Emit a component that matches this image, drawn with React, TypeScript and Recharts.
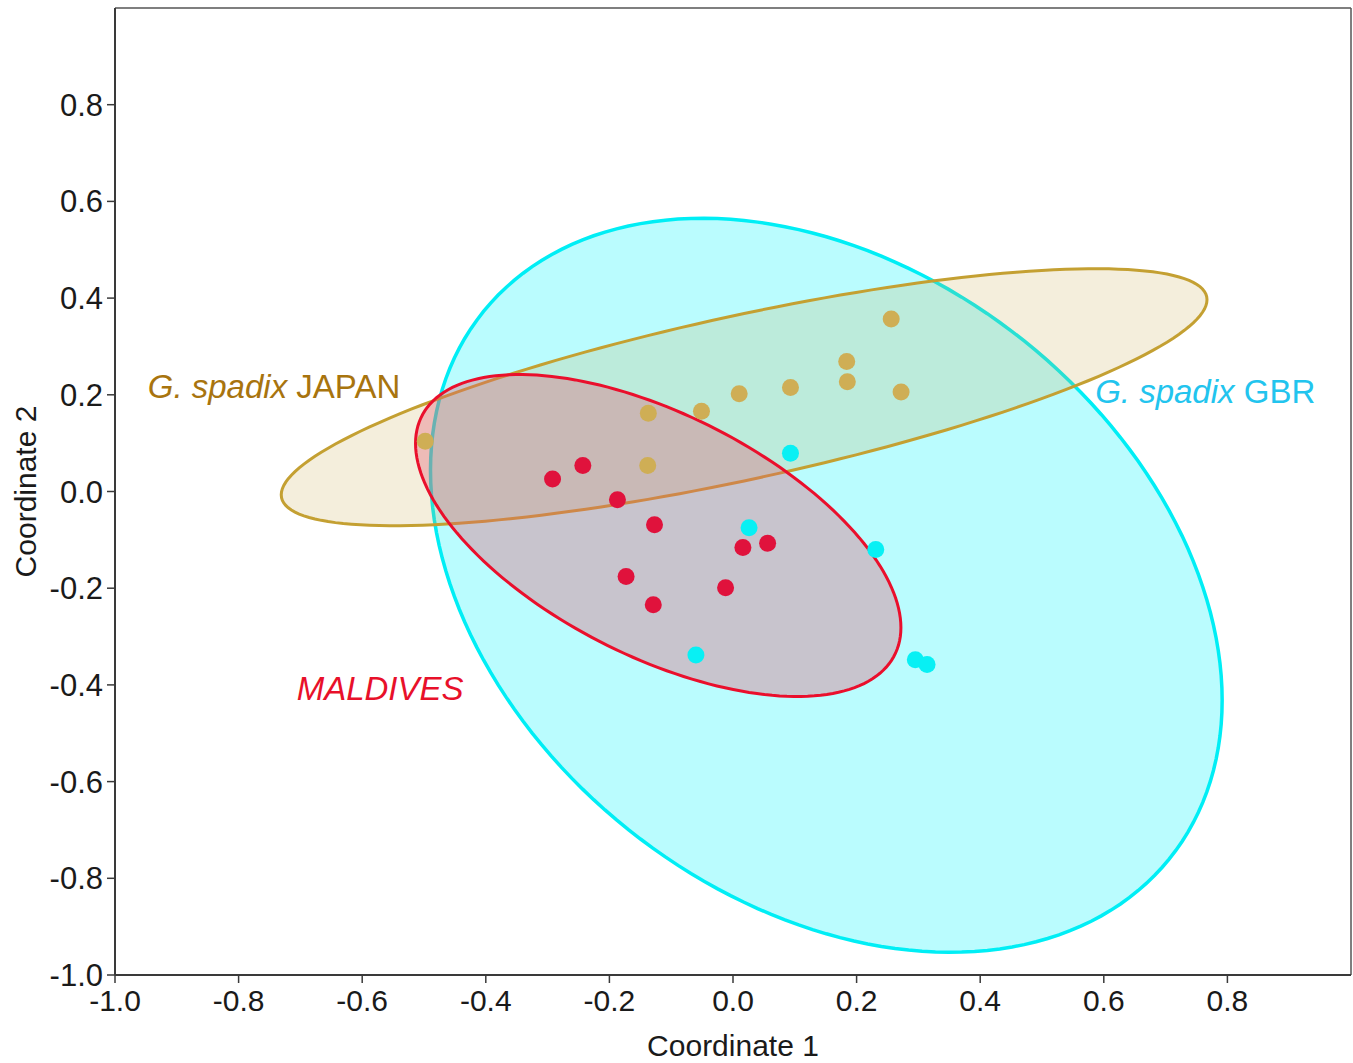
import * as Recharts from 'recharts';
import { ScatterChart, Scatter, XAxis, YAxis, ReferenceLine } from 'recharts';

const xTicks = [-1.0, -0.8, -0.6, -0.4, -0.2, 0.0, 0.2, 0.4, 0.6, 0.8];
const yTicks = [-1.0, -0.8, -0.6, -0.4, -0.2, 0.0, 0.2, 0.4, 0.6, 0.8];
const domain: [number, number] = [-1, 1];

// PCoA scores
const japanPoints = [
  { x: -0.498, y: 0.104 },
  { x: -0.137, y: 0.162 },
  { x: -0.138, y: 0.054 },
  { x: -0.051, y: 0.166 },
  { x: 0.01, y: 0.202 },
  { x: 0.093, y: 0.215 },
  { x: 0.184, y: 0.269 },
  { x: 0.185, y: 0.227 },
  { x: 0.256, y: 0.357 },
  { x: 0.272, y: 0.206 },
];

const maldivesPoints = [
  { x: -0.292, y: 0.026 },
  { x: -0.243, y: 0.054 },
  { x: -0.187, y: -0.017 },
  { x: -0.127, y: -0.069 },
  { x: -0.173, y: -0.176 },
  { x: -0.129, y: -0.234 },
  { x: 0.016, y: -0.116 },
  { x: 0.056, y: -0.107 },
  { x: -0.012, y: -0.199 },
];

const gbrPoints = [
  { x: 0.093, y: 0.079 },
  { x: 0.026, y: -0.075 },
  { x: 0.231, y: -0.12 },
  { x: -0.06, y: -0.338 },
  { x: 0.295, y: -0.348 },
  { x: 0.314, y: -0.358 },
];

// 95% ellipses: centre plus two conjugate radius vectors, in data units
const gbrEllipse = { center: [0.151, -0.194], u: [0.6405, -0.2378], v: [0, -0.7208] };
const japanEllipse = { center: [0.018, 0.195], u: [0.749, 0.2017], v: [0, -0.1731] };
const maldivesEllipse = { center: [-0.121, -0.091], u: [0.3927, -0.1903], v: [0, -0.2732] };

const FONT = '"Liberation Sans", Arial, Helvetica, sans-serif';

const RC: any = Recharts;

function usePlotBox() {
  if (RC.usePlotArea) return RC.usePlotArea();
  const off = RC.useOffset();
  const w = RC.useChartWidth();
  const h = RC.useChartHeight();
  if (!off || !w || !h) return undefined;
  return { x: off.left, y: off.top, width: w - off.left - off.right, height: h - off.top - off.bottom };
}

function useMapper() {
  const box = usePlotBox();
  if (!box) return null;
  const sx = (v: number) => box.x + ((v - domain[0]) / (domain[1] - domain[0])) * box.width;
  const sy = (v: number) => box.y + box.height - ((v - domain[0]) / (domain[1] - domain[0])) * box.height;
  return { sx, sy };
}

function Ellipse({ e, fill, stroke, width = 3 }: { e: any; fill: string; stroke: string; width?: number }) {
  const m = useMapper();
  if (!m) return null;
  const n = 180;
  let d = '';
  for (let i = 0; i <= n; i++) {
    const t = (i / n) * Math.PI * 2;
    const x = e.center[0] + e.u[0] * Math.cos(t) + e.v[0] * Math.sin(t);
    const y = e.center[1] + e.u[1] * Math.cos(t) + e.v[1] * Math.sin(t);
    d += (i === 0 ? 'M' : 'L') + m.sx(x).toFixed(2) + ',' + m.sy(y).toFixed(2);
  }
  return <path d={d + 'Z'} fill={fill} stroke={stroke} strokeWidth={width} />;
}

function GroupLabels() {
  const m = useMapper();
  if (!m) return null;
  return (
    <g style={{ fontFamily: FONT, fontSize: 33 }}>
      <text x={m.sx(-0.947)} y={m.sy(0.194)} fill="#a8740e">
        <tspan fontStyle="italic">G. spadix</tspan> JAPAN
      </text>
      <text x={m.sx(0.586)} y={m.sy(0.184)} fill="#22c4ee">
        <tspan fontStyle="italic">G. spadix</tspan> GBR
      </text>
      <text x={m.sx(-0.706)} y={m.sy(-0.432)} fill="#e8102a" fontStyle="italic">
        MALDIVES
      </text>
    </g>
  );
}

const dot = (color: string) => (p: any) => <circle cx={p.cx} cy={p.cy} r={8.5} fill={color} />;

export default function App() {
  return (
    <div style={{ background: '#fff', width: 1353, height: 1063 }}>
      <style>{`body{margin:0}`}</style>
      <ScatterChart
        width={1353}
        height={1063}
        margin={{ top: 8, right: 2, bottom: 0, left: 0 }}
        style={{ fontFamily: FONT }}
      >
        <XAxis
          type="number"
          dataKey="x"
          domain={domain}
          ticks={xTicks}
          allowDataOverflow
          height={88}
          tickSize={8}
          tickMargin={7}
          tickFormatter={(v: number) => v.toFixed(1)}
          tick={{ fontSize: 30, fill: '#1a1a1a' }}
          axisLine={{ stroke: '#3a3a3a', strokeWidth: 2 }}
          tickLine={{ stroke: '#3a3a3a', strokeWidth: 1.5 }}
          label={{ value: 'Coordinate 1', position: 'insideBottom', offset: 7, fontSize: 30, fill: '#1a1a1a' }}
        />
        <YAxis
          type="number"
          dataKey="y"
          domain={domain}
          ticks={yTicks}
          allowDataOverflow
          width={115}
          tickSize={8}
          tickMargin={4}
          tickFormatter={(v: number) => v.toFixed(1)}
          tick={{ fontSize: 31, fill: '#1a1a1a' }}
          axisLine={{ stroke: '#3a3a3a', strokeWidth: 2 }}
          tickLine={{ stroke: '#3a3a3a', strokeWidth: 1.5 }}
          label={{
            value: 'Coordinate 2',
            angle: -90,
            position: 'insideLeft',
            offset: 25,
            fontSize: 30,
            fill: '#1a1a1a',
            style: { textAnchor: 'middle' },
          }}
        />
        <ReferenceLine y={1} stroke="#555" strokeWidth={1.5} />
        <ReferenceLine x={1} stroke="#555" strokeWidth={1.5} />
        <Ellipse e={gbrEllipse} fill="rgba(0,245,250,0.27)" stroke="#00eef5" width={3.5} />
        <Ellipse e={japanEllipse} fill="rgba(200,168,80,0.2)" stroke="#c4a032" />
        <Scatter name="JAPAN" data={japanPoints} fill="#cfae55" shape={dot('#cfae55')} isAnimationActive={false} />
        <Ellipse e={maldivesEllipse} fill="rgba(226,92,115,0.35)" stroke="#ea0f2c" />
        <Scatter name="MALDIVES" data={maldivesPoints} fill="#e0123c" shape={dot('#e0123c')} isAnimationActive={false} />
        <Scatter name="GBR" data={gbrPoints} fill="#08f0f4" shape={dot('#08f0f4')} isAnimationActive={false} />
        <GroupLabels />
      </ScatterChart>
    </div>
  );
}
